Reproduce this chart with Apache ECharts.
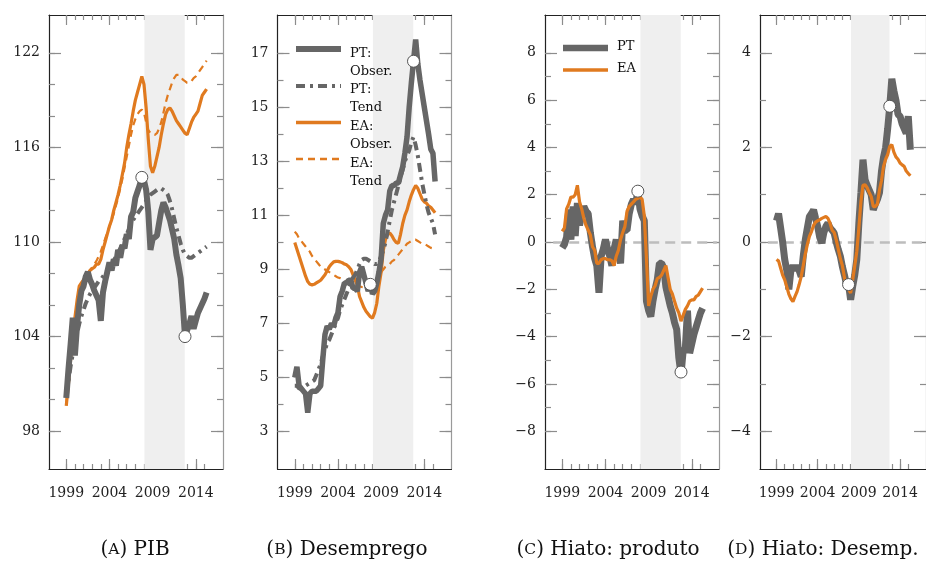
<!DOCTYPE html>
<html>
<head>
<meta charset="utf-8">
<script src="https://cdn.jsdelivr.net/npm/echarts@6/dist/echarts.min.js"></script>
<style>
  html, body { margin: 0; padding: 0; background: #fff; }
  #chart { width: 926px; height: 563px; }
</style>
</head>
<body>
<div id="chart"></div>
<script>
// quarterly values, 1999Q1 .. 2015Q2

// (A) PIB
const pibPtObs = [
  100.1, 101.9, 103.5, 105.2,
  102.8, 104.7, 106.0, 106.9,
  107.2, 107.8, 108.1, 107.6,
  107.3, 106.9, 106.6, 106.3,
  105.0, 106.8, 107.5, 108.1,
  108.7, 108.2, 108.9, 108.5,
  109.5, 109.0, 109.8, 109.6,
  110.5, 110.2, 111.6, 111.9,
  112.8, 113.2, 113.6, 114.1,
  113.9, 113.3, 111.9, 109.5,
  110.2, 110.3, 110.4, 111.2,
  112.0, 112.5, 112.2, 111.8,
  111.4, 110.8, 110.2, 109.2,
  108.5, 107.7, 106.0, 104.0,
  104.4, 104.8, 105.3, 104.5,
  105.0, 105.5, 105.8, 106.1,
  106.4, 106.8
];
const pibPtTend = [
  100.3, 101.2, 102.1, 102.9,
  103.6, 104.2, 104.8, 105.3,
  105.7, 106.1, 106.4, 106.7,
  106.9, 107.1, 107.3, 107.5,
  107.6, 107.8, 108.0, 108.2,
  108.4, 108.6, 108.8, 109.1,
  109.3, 109.6, 109.9, 110.2,
  110.5, 110.8, 111.1, 111.4,
  111.6, 111.8, 112.0, 112.2,
  112.4, 112.6, 112.8, 113.0,
  113.1, 113.2, 113.3, 113.4,
  113.4, 113.3, 113.2, 113.0,
  112.6, 112.1, 111.5, 110.9,
  110.4, 109.9, 109.5, 109.2,
  109.1, 109.0, 109.0, 109.1,
  109.2, 109.3, 109.4, 109.5,
  109.6, 109.7
];
const pibEaObs = [
  99.6, 101.0, 102.5, 104.0,
  105.2, 106.3, 107.2, 107.4,
  107.6, 107.8, 108.0, 108.2,
  108.3, 108.4, 108.6, 108.6,
  108.9, 109.5, 110.0, 110.5,
  111.0, 111.4, 112.0, 112.5,
  113.0, 113.6, 114.3, 115.0,
  116.0, 116.8, 117.5, 118.3,
  119.0, 119.5, 120.0, 120.5,
  120.0, 118.5, 116.5, 114.8,
  114.4, 114.8, 115.4, 116.0,
  116.8, 117.5, 118.1, 118.4,
  118.5, 118.3, 118.0, 117.7,
  117.5, 117.3, 117.1, 116.9,
  116.8, 117.2, 117.6, 117.9,
  118.1, 118.3, 118.8, 119.3,
  119.5, 119.7
];
const pibEaTend = [
  99.8, 101.0, 102.3, 103.5,
  104.6, 105.6, 106.4, 107.0,
  107.4, 107.7, 108.0, 108.2,
  108.4, 108.6, 108.8, 109.1,
  109.4, 109.8, 110.2, 110.6,
  111.0, 111.4, 111.8, 112.3,
  112.8, 113.4, 114.0, 114.7,
  115.4, 116.1, 116.8, 117.4,
  117.8, 118.1, 118.3, 118.4,
  118.2, 117.6, 117.1, 116.9,
  116.8, 116.8, 116.9, 117.2,
  117.6, 118.2, 118.8, 119.3,
  119.7, 120.1, 120.4, 120.6,
  120.6, 120.5, 120.3, 120.2,
  120.1, 120.1, 120.2, 120.4,
  120.5, 120.7, 120.9, 121.1,
  121.3, 121.5
];

// (B) Desemprego
const desPtObs = [
  5.0, 5.4, 4.7, 4.6,
  4.5, 4.4, 3.7, 4.4,
  4.5, 4.5, 4.5, 4.6,
  4.7, 5.7, 6.6, 6.9,
  6.8, 7.0, 6.9, 7.2,
  7.4, 8.0, 8.2, 8.5,
  8.5, 8.6, 8.6, 8.3,
  8.3, 8.2, 8.9, 9.1,
  8.8, 8.5, 8.2, 8.45,
  8.1, 8.2, 8.5, 8.9,
  9.4, 10.7, 11.0, 11.2,
  11.9, 12.1, 12.1, 12.2,
  12.2, 12.5, 12.8, 13.3,
  13.9, 15.0, 15.9, 16.7,
  17.5, 16.6, 16.0, 15.5,
  15.0, 14.5, 14.0, 13.45,
  13.3, 12.25
];
const desPtTend = [
  4.7, 4.7, 4.6, 4.6,
  4.6, 4.7, 4.75, 4.8,
  4.85, 4.9, 5.1, 5.3,
  5.5, 5.8, 6.0, 6.3,
  6.4, 6.6, 6.8, 7.0,
  7.2, 7.5, 7.7, 7.9,
  8.1, 8.3, 8.5, 8.7,
  8.8, 9.0, 9.2, 9.35,
  9.4, 9.4, 9.35, 9.3,
  9.25, 9.2, 9.2, 9.3,
  9.5, 9.7, 10.0, 10.4,
  10.8, 11.2, 11.5, 11.8,
  12.1, 12.4, 12.7, 13.0,
  13.2, 13.4, 13.7, 13.9,
  13.6, 13.2, 12.7, 12.2,
  11.8, 11.4, 11.1, 10.9,
  10.7, 10.3
];
const desEaObs = [
  10.0, 9.75, 9.5, 9.25,
  9.0, 8.75, 8.55, 8.45,
  8.43, 8.45, 8.5, 8.55,
  8.6, 8.7, 8.8, 8.95,
  9.1, 9.2, 9.28, 9.3,
  9.3, 9.28, 9.25, 9.2,
  9.17, 9.1, 9.0, 8.8,
  8.6, 8.4, 8.0, 7.8,
  7.6, 7.45, 7.35, 7.25,
  7.2, 7.4, 7.75, 8.4,
  8.9, 9.7, 10.1, 10.3,
  10.35, 10.25, 10.1, 10.0,
  9.97, 10.3, 10.7, 11.0,
  11.2, 11.5, 11.75, 11.95,
  12.1, 12.0, 11.8, 11.6,
  11.5, 11.45, 11.35, 11.3,
  11.2, 11.1
];
const desEaTend = [
  10.4, 10.3, 10.15, 10.05,
  9.95, 9.85, 9.75, 9.65,
  9.5, 9.4, 9.3, 9.2,
  9.1, 9.05, 9.0, 8.95,
  8.9, 8.85, 8.8, 8.75,
  8.7, 8.68, 8.65, 8.6,
  8.55, 8.5, 8.48, 8.45,
  8.42, 8.4, 8.38, 8.35,
  8.33, 8.3, 8.27, 8.25,
  8.3, 8.45, 8.6, 8.75,
  8.9, 9.0, 9.1, 9.15,
  9.2, 9.3, 9.35, 9.45,
  9.55, 9.65, 9.75, 9.85,
  9.95, 10.0, 10.05, 10.1,
  10.1, 10.05, 10.0, 9.95,
  9.95, 9.9, 9.85, 9.8,
  9.78, 9.75
];

// (C) Hiato: produto
const prodGapPt = [
  -0.25, -0.1, 0.2, 1.37,
  0.1, 1.5, 0.25, 1.65,
  0.7, 1.2, 1.5, 1.3,
  1.2, 0.4, -0.2, -0.7,
  -1.0, -2.15, -0.6, -0.3,
  0.1, -0.3, -0.6, -1.0,
  -0.3, 0.1, -0.4, -0.9,
  0.9, 0.5, 0.5, 1.2,
  1.6, 1.8, 1.6, 2.15,
  1.4, 1.1, 0.9, -2.5,
  -2.9, -3.15, -2.5, -2.0,
  -1.6, -0.9, -0.9, -1.1,
  -1.9, -2.3, -2.7, -3.0,
  -3.4, -3.7, -4.9, -5.6,
  -4.6, -4.5, -2.9, -4.7,
  -4.3, -3.9, -3.6, -3.3,
  -3.0, -2.8
];
const prodGapEa = [
  0.45, 0.6, 1.4, 1.6,
  1.9, 1.9, 2.0, 2.4,
  1.7, 1.4, 1.0, 0.7,
  0.5, 0.3, -0.2, -0.35,
  -0.9, -0.9, -0.75, -0.7,
  -0.7, -0.75, -0.75, -0.8,
  -1.0, -0.6, -0.35, 0.1,
  0.4, 0.65, 1.3, 1.5,
  1.6, 1.7, 1.8, 1.85,
  1.9, 1.8, 1.1, -0.7,
  -2.7, -2.3, -2.0, -1.85,
  -1.55, -1.5, -1.4, -1.2,
  -1.0, -1.5, -2.0, -2.2,
  -2.5, -2.8, -3.0, -3.35,
  -3.1, -2.85, -2.7, -2.5,
  -2.45, -2.45, -2.3, -2.25,
  -2.1, -1.95
];

// (D) Hiato: Desemp.
const unempGapPt = [
  0.45, 0.6, 0.3, 0.0,
  -0.37, -0.6, -1.0, -0.6,
  -0.5, -0.6, -0.5, -0.6,
  -0.73, -0.3, 0.05, 0.3,
  0.54, 0.6, 0.68, 0.5,
  0.33, 0.1, -0.02, 0.2,
  0.33, 0.4, 0.3, 0.25,
  0.19, 0.0, -0.16, -0.3,
  -0.52, -0.7, -0.9, -0.9,
  -1.22, -0.94, -0.7, -0.37,
  0.4, 1.04, 1.74, 1.32,
  1.2, 1.1, 1.0, 0.68,
  0.8, 0.9, 1.04, 1.5,
  1.8, 2.0, 2.4, 2.87,
  3.45, 3.2, 3.0, 2.7,
  2.66, 2.5, 2.4, 2.3,
  2.66, 1.95
];
const unempGapEa = [
  -0.37, -0.4, -0.55, -0.7,
  -0.8, -0.95, -1.1, -1.2,
  -1.26, -1.15, -1.05, -0.9,
  -0.73, -0.5, -0.25, -0.05,
  0.12, 0.22, 0.35, 0.42,
  0.45, 0.47, 0.5, 0.52,
  0.54, 0.5, 0.4, 0.25,
  0.2, 0.05, -0.15, -0.35,
  -0.5, -0.75, -0.9, -1.0,
  -1.08, -0.8, -0.5, -0.2,
  0.3, 0.85, 1.2, 1.21,
  1.15, 1.05, 0.96, 0.75,
  0.75, 0.8, 1.1, 1.3,
  1.6, 1.75, 1.85, 2.02,
  2.06, 1.9, 1.8, 1.75,
  1.67, 1.63, 1.6, 1.5,
  1.45, 1.4
];

// peak / trough markers and the shaded recession
const turnDates = [2007.75, 2012.75];
const pibMarks = [114.1, 104.0];
const desMarks = [8.45, 16.7];
const prodMarks = [2.15, -5.5];
const unempMarks = [-0.9, 2.87];
const recession = [2008.05, 2012.72];

// tick labels
const xLabelYears = [1999, 2004, 2009, 2014];
const yearTicks = [1999, 2000, 2001, 2002, 2003, 2004, 2005, 2006, 2007, 2008, 2009, 2010, 2011, 2012, 2013, 2014, 2015];
const pibLabels = [98, 104, 110, 116, 122];
const pibTicks = [98, 100, 102, 104, 106, 108, 110, 112, 114, 116, 118, 120, 122];
const desLabels = [3, 5, 7, 9, 11, 13, 15, 17];
const desTicks = [3, 4, 5, 6, 7, 8, 9, 10, 11, 12, 13, 14, 15, 16, 17];
const prodLabels = [-8, -6, -4, -2, 0, 2, 4, 6, 8];
const prodTicks = [-8, -7, -6, -5, -4, -3, -2, -1, 0, 1, 2, 3, 4, 5, 6, 7, 8];
const unempLabels = [-4, -2, 0, 2, 4];
const unempTicks = [-4, -3, -2, -1, 0, 1, 2, 3, 4];

const quarters = pibPtObs.map((_, i) => 1999 + i / 4);

const GRAY = '#666666';
const ORANGE = '#e07a1f';
const FONT = 'DejaVu Serif';
const TICK = { color: '#8c8c8c', width: 1.2 };
const X_MIN = 1997.0, X_MAX = 2017.15;

const ptObsStyle = w => ({ color: GRAY, width: w });
const ptTendStyle = { color: GRAY, width: 4, type: [9, 5, 3, 5] };
const eaObsStyle = { color: ORANGE, width: 3.2 };
const eaTendStyle = { color: ORANGE, width: 2.2, type: [7, 5] };

const panels = [
  { left: 49, yMin: 95.6, yMax: 124.4, labels: pibLabels, ticks: pibTicks, marks: pibMarks,
    lines: [
      { v: pibEaTend, s: eaTendStyle }, { v: pibEaObs, s: eaObsStyle },
      { v: pibPtTend, s: ptTendStyle }, { v: pibPtObs, s: ptObsStyle(6) }
    ] },
  { left: 277.5, yMin: 1.62, yMax: 18.41, labels: desLabels, ticks: desTicks, marks: desMarks,
    lines: [
      { v: desEaTend, s: eaTendStyle }, { v: desEaObs, s: eaObsStyle },
      { v: desPtTend, s: ptTendStyle }, { v: desPtObs, s: ptObsStyle(5.5) }
    ] },
  { left: 545, yMin: -9.6, yMax: 9.6, labels: prodLabels, ticks: prodTicks, marks: prodMarks, zero: true,
    lines: [
      { v: prodGapPt, s: ptObsStyle(7) }, { v: prodGapEa, s: eaObsStyle }
    ] },
  { left: 760, yMin: -4.8, yMax: 4.8, labels: unempLabels, ticks: unempTicks, marks: unempMarks, zero: true,
    lines: [
      { v: unempGapPt, s: ptObsStyle(7) }, { v: unempGapEa, s: eaObsStyle }
    ] }
];

const grid = [], xAxis = [], yAxis = [], series = [];

panels.forEach((p, g) => {
  grid.push({ left: p.left, top: 15, width: 174, height: 454, containLabel: false });

  const xb = { type: 'value', gridIndex: g, min: X_MIN, max: X_MAX, splitLine: { show: false } };
  xAxis.push(
    Object.assign({}, xb, { position: 'bottom',
      axisLine: { onZero: false, lineStyle: { color: '#222', width: 1.2 } },
      axisTick: { inside: true, length: 10, customValues: xLabelYears, lineStyle: TICK },
      axisLabel: { customValues: xLabelYears, margin: 17, fontFamily: FONT, fontSize: 14, color: '#222',
        formatter: v => String(v) } }),
    Object.assign({}, xb, { position: 'bottom', axisLine: { show: false, onZero: false },
      axisTick: { inside: true, length: 5, customValues: yearTicks, lineStyle: TICK }, axisLabel: { show: false } }),
    Object.assign({}, xb, { position: 'top',
      axisLine: { onZero: false, lineStyle: { color: '#222', width: 1.2 } },
      axisTick: { inside: true, length: 10, customValues: xLabelYears, lineStyle: TICK }, axisLabel: { show: false } }),
    Object.assign({}, xb, { position: 'top', axisLine: { show: false, onZero: false },
      axisTick: { inside: true, length: 5, customValues: yearTicks, lineStyle: TICK }, axisLabel: { show: false } })
  );

  const yb = { type: 'value', gridIndex: g, min: p.yMin, max: p.yMax, splitLine: { show: false } };
  yAxis.push(
    Object.assign({}, yb, { position: 'left',
      axisLine: { show: true, onZero: false, lineStyle: { color: '#222', width: 1.2 } },
      axisTick: { show: true, inside: true, length: 12, customValues: p.labels, lineStyle: TICK },
      axisLabel: { customValues: p.labels, margin: 9, fontFamily: FONT, fontSize: 14, color: '#222',
        formatter: v => (v < 0 ? '\u2212' + Math.abs(v) : String(v)) } }),
    Object.assign({}, yb, { position: 'left', axisLine: { show: false, onZero: false },
      axisTick: { show: true, inside: true, length: 6, customValues: p.ticks, lineStyle: TICK }, axisLabel: { show: false } }),
    Object.assign({}, yb, { position: 'right',
      axisLine: { show: true, onZero: false, lineStyle: { color: '#9a9a9a', width: 1.2 } },
      axisTick: { show: true, inside: true, length: 12, customValues: p.labels, lineStyle: TICK }, axisLabel: { show: false } }),
    Object.assign({}, yb, { position: 'right', axisLine: { show: false, onZero: false },
      axisTick: { show: true, inside: true, length: 6, customValues: p.ticks, lineStyle: TICK }, axisLabel: { show: false } })
  );

  p.lines.forEach((l, k) => {
    const s = {
      type: 'line', xAxisIndex: 4 * g, yAxisIndex: 4 * g,
      data: l.v.map((v, i) => [quarters[i], v]),
      showSymbol: false, symbol: 'none', lineStyle: l.s, z: 2 + k, silent: true
    };
    if (k === 0) {
      s.markArea = { silent: true, z: 1, itemStyle: { color: '#efefef' },
        data: [[{ xAxis: recession[0] }, { xAxis: recession[1] }]] };
      if (p.zero) {
        s.markLine = { silent: true, z: 1.5, symbol: ['none', 'none'], label: { show: false },
          lineStyle: { color: '#bdbdbd', width: 2.5, type: [10, 6] },
          data: [[{ coord: [1997.95, 0] }, { coord: [2016.9, 0] }]] };
      }
    }
    series.push(s);
  });

  series.push({
    type: 'scatter', xAxisIndex: 4 * g, yAxisIndex: 4 * g,
    data: p.marks.map((v, i) => [turnDates[i], v]),
    symbol: 'circle', symbolSize: 12, z: 10, silent: true,
    itemStyle: { color: '#ffffff', borderColor: '#555', borderWidth: 1, opacity: 1 }
  });
});

// captions and legends
const titleStyle = (x, txt) => ({
  type: 'text', x: x, y: 550, silent: true,
  style: { text: txt, textAlign: 'center', textVerticalAlign: 'middle', fontFamily: FONT, fontSize: 20, fill: '#111',
    rich: { sc: { fontFamily: FONT, fontSize: 15.5, fill: '#111' } } }
});
const legendLine = (x1, x2, y, st) => ({
  type: 'line', silent: true, z: 20, shape: { x1: x1, y1: y, x2: x2, y2: y },
  style: { stroke: st.color, lineWidth: st.width, lineDash: st.type || null }
});
const legendText = (x, y, txt) => ({
  type: 'text', x: x, y: y, silent: true, z: 20,
  style: { text: txt, textAlign: 'left', textVerticalAlign: 'top', fontFamily: FONT, fontSize: 13, lineHeight: 18, fill: '#111' }
});

const graphic = [
  titleStyle(135, '({sc|A}) PIB'),
  titleStyle(347, '({sc|B}) Desemprego'),
  titleStyle(608, '({sc|C}) Hiato: produto'),
  titleStyle(823, '({sc|D}) Hiato: Desemp.'),

  legendLine(296, 341, 49, ptObsStyle(6)),
  legendText(350, 45, 'PT:\nObser.'),
  legendLine(296, 341, 86, ptTendStyle),
  legendText(350, 81, 'PT:\nTend'),
  legendLine(296, 341, 122.5, { color: ORANGE, width: 3.5 }),
  legendText(350, 118, 'EA:\nObser.'),
  legendLine(296, 341, 159, { color: ORANGE, width: 2.5, type: [7, 5] }),
  legendText(350, 154.5, 'EA:\nTend'),

  legendLine(563, 608, 48, ptObsStyle(6.5)),
  { type: 'text', x: 617, y: 47, silent: true, z: 20,
    style: { text: 'PT', textVerticalAlign: 'middle', fontFamily: FONT, fontSize: 13, fill: '#111' } },
  legendLine(563, 608, 70, { color: ORANGE, width: 3.5 }),
  { type: 'text', x: 617, y: 69, silent: true, z: 20,
    style: { text: 'EA', textVerticalAlign: 'middle', fontFamily: FONT, fontSize: 13, fill: '#111' } }
];

const chart = echarts.init(document.getElementById('chart'), null, { renderer: 'canvas' });
chart.setOption({
  animation: false,
  backgroundColor: '#ffffff',
  textStyle: { fontFamily: FONT },
  grid, xAxis, yAxis, series, graphic
});
</script>
</body>
</html>
